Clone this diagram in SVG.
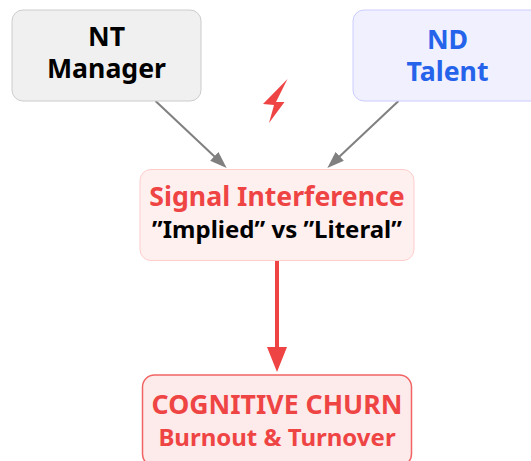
<svg xmlns="http://www.w3.org/2000/svg" width="531" height="461" viewBox="0 0 531 461">
<style>
text{font-family:"Noto Sans",sans-serif;font-weight:700;text-anchor:middle}
.a{font-size:26.67px;fill:#000}
.b{font-size:26.67px;fill:#2563eb}
.r{font-size:26.67px;fill:#ef4444}
.s{font-size:24px}
.k{fill:#000}
.e{fill:#ef4444}
.g{stroke:#808080;stroke-width:2;fill:none}
</style>
<defs>
<marker id="ag" markerUnits="userSpaceOnUse" markerWidth="17" markerHeight="12" refX="1" refY="6" orient="auto"><path d="M0 0L17 6L0 12Z" fill="#808080"/></marker>
<marker id="ar" markerUnits="userSpaceOnUse" markerWidth="25" markerHeight="20" refX="1" refY="10" orient="auto"><path d="M0 0L25 10L0 20Z" fill="#ef4444"/></marker>
</defs>
<rect width="531" height="461" fill="#fff"/>
<g id="connectors">
<path class="g" d="M155.500 101L215 157" marker-end="url(#ag)"/>
<path class="g" d="M398.500 101L339 157" marker-end="url(#ag)"/>
<path d="M277 260.500V348" stroke="#ef4444" stroke-width="4" fill="none" marker-end="url(#ar)"/>
</g>
<g id="nt">
<rect x="12" y="10" width="189" height="91" rx="11" fill="#f0f0f0" stroke="#ccc"/>
<text class="a" x="106.500" y="46">NT</text>
<text class="a" x="106.500" y="78">Manager</text>
</g>
<g id="nd">
<rect x="353" y="10" width="189" height="91" rx="11" fill="#f0f0ff" stroke="#ccf"/>
<text class="b" x="447.500" y="49">ND</text>
<text class="b" x="447.500" y="81">Talent</text>
</g>
<g id="bolt"><path d="M287.500 79L263 104L274 105L269 123L284.500 102L276 102Z" fill="#ef4444"/></g>
<g id="signal">
<rect x="140" y="169.500" width="274" height="91" rx="11" fill="#fff0f0" stroke="#fcc"/>
<text class="r" x="277" y="206">Signal Interference</text>
<text class="s k" x="277" y="238">”Implied” vs ”Literal”</text>
</g>
<g id="churn">
<rect x="142.500" y="375" width="269" height="91" rx="12" fill="#fdeaea" stroke="#f26464" stroke-width="1.500"/>
<text class="r" x="277" y="414">COGNITIVE CHURN</text>
<text class="s e" x="277" y="446">Burnout &amp; Turnover</text>
</g>
</svg>
